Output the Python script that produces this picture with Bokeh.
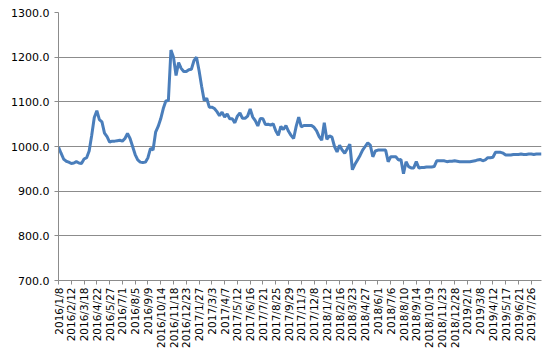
import math
from bokeh.plotting import figure
from bokeh.models import Range1d, FixedTicker, NumeralTickFormatter
from bokeh.embed import file_html
from bokeh.resources import INLINE

tick_labels = [
    "2016/1/8", "2016/2/12", "2016/3/18", "2016/4/22", "2016/5/27", "2016/7/1",
    "2016/8/5", "2016/9/9", "2016/10/14", "2016/11/18", "2016/12/23", "2017/1/27",
    "2017/3/3", "2017/4/7", "2017/5/12", "2017/6/16", "2017/7/21", "2017/8/25",
    "2017/9/29", "2017/11/3", "2017/12/8", "2018/1/12", "2018/2/16", "2018/3/23",
    "2018/4/27", "2018/6/1", "2018/7/6", "2018/8/10", "2018/9/14", "2018/10/19",
    "2018/11/23", "2018/12/28", "2019/2/1", "2019/3/8", "2019/4/12", "2019/5/17",
    "2019/6/21", "2019/7/26",
]
label_step = 5  # one label every 5 weekly points

values = [
    999, 985, 972, 967, 965, 962, 963, 966, 963, 962,
    972, 975, 990, 1025, 1065, 1080, 1060, 1055, 1030, 1022,
    1010, 1012, 1012, 1013, 1014, 1012, 1018, 1029, 1018, 1000,
    982, 970, 965, 964, 965, 975, 996, 992, 1032, 1045,
    1062, 1085, 1102, 1103, 1216, 1200, 1159, 1188, 1175, 1168,
    1168, 1172, 1173, 1192, 1200, 1170, 1135, 1103, 1108, 1088,
    1088, 1085, 1078, 1069, 1077, 1066, 1073, 1062, 1062, 1053,
    1068, 1075, 1063, 1063, 1068, 1084, 1066, 1058, 1046, 1063,
    1062, 1049, 1050, 1048, 1051, 1035, 1025, 1045, 1038, 1047,
    1034, 1025, 1018, 1045, 1066, 1044, 1047, 1047, 1047, 1047,
    1043, 1035, 1022, 1014, 1053, 1016, 1024, 1021, 1000, 988,
    1003, 992, 985, 995, 1005, 948, 960, 970, 980, 992,
    1000, 1008, 1003, 977, 990, 992, 992, 992, 992, 966,
    977, 977, 977, 970, 971, 939, 966, 955, 952, 952,
    966, 952, 953, 953, 954, 954, 954, 955, 968, 968,
    968, 968, 966, 967, 967, 968, 967, 966, 966, 966,
    966, 966, 967, 968, 970, 971, 968, 970, 975, 975,
    976, 987, 987, 987, 985, 981, 981, 981, 982, 982,
    982, 983, 982, 982, 983, 983, 982, 983, 983, 983,
]

y_min, y_max, y_step = 700, 1300, 100

x = list(range(len(values)))

p = figure(width=545, height=351, output_backend="svg", toolbar_location=None,
           x_range=Range1d(0, len(values) - 1), y_range=Range1d(y_min, y_max),
           min_border_left=58, min_border_right=4, min_border_top=12,
           min_border_bottom=67)
p.outline_line_color = None
p.background_fill_color = "white"
p.border_fill_color = "white"

p.line(x, values, line_color="#4A7EBB", line_width=3)

grid_col = "#8c8c8c"
p.xgrid.grid_line_color = None
p.ygrid.grid_line_color = grid_col
p.ygrid.grid_line_width = 1

p.yaxis.ticker = FixedTicker(ticks=list(range(y_min, y_max + 1, y_step)))
p.yaxis.formatter = NumeralTickFormatter(format="0.0")
p.yaxis.major_label_text_font = "DejaVu Sans"
p.yaxis.major_label_text_font_size = "11px"
p.yaxis.major_label_text_color = "#000000"
p.yaxis.major_label_standoff = 5
p.yaxis.major_tick_out = 4
p.yaxis.major_tick_in = 0
p.yaxis.minor_tick_out = 0
p.yaxis.minor_tick_in = 0
p.yaxis.axis_line_color = grid_col
p.yaxis.major_tick_line_color = grid_col

tick_pos = [i * label_step for i in range(len(tick_labels))]
p.xaxis.ticker = FixedTicker(ticks=tick_pos)
p.xaxis.major_label_overrides = {t: lab for t, lab in zip(tick_pos, tick_labels)}
p.xaxis.major_label_orientation = math.pi / 2
p.xaxis.major_label_text_font = "DejaVu Sans"
p.xaxis.major_label_text_font_size = "10.5px"
p.xaxis.major_label_text_color = "#000000"
p.xaxis.major_label_standoff = 3
p.xaxis.major_tick_out = 4
p.xaxis.major_tick_in = 0
p.xaxis.minor_tick_out = 0
p.xaxis.minor_tick_in = 0
p.xaxis.axis_line_color = grid_col
p.xaxis.major_tick_line_color = grid_col

open("out.html", "w").write(file_html(p, INLINE))
